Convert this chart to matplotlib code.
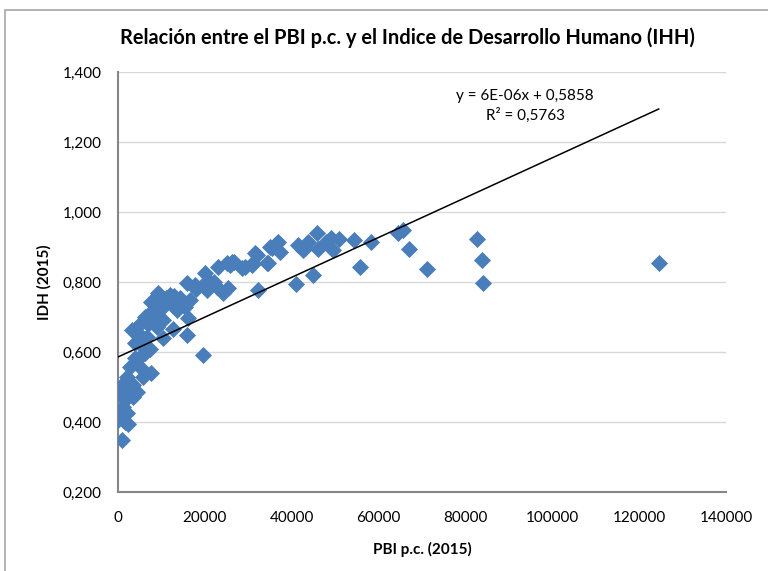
import matplotlib.pyplot as plt
from matplotlib.patches import Rectangle
from matplotlib.ticker import FuncFormatter

# -----------------------------
# Data
# -----------------------------
pbi = [
    124500, 82700, 83800, 84000, 71100, 66900, 64500, 65600,
    58200, 55700, 54400, 51000, 49400, 49000, 47900, 45900, 46100, 45000,
    43800, 42700, 41500, 41100, 36500, 37300, 35400, 34600, 31500, 30800,
    32300, 29200, 26300, 25800, 23100, 20000, 21200, 22700, 25400, 24200,
    19600, 36900, 35000, 43100, 31900, 31200, 34200, 26600, 25000, 15800,
    17700, 21200, 20400, 9300, 12000, 14300, 7700, 9700, 16600, 15400,
    12700, 10400, 8100, 13500, 16200, 6200, 7700, 5400, 10400, 8900,
    12700, 3200, 5100, 15800, 6600, 10400, 3900, 5400, 7400, 6200,
    19600, 3900, 2800, 5400, 7700, 5800, 2000, 1200, 3500, 500,
    2800, 4300, 1600, 3500, 1200, 500, 2000, 100, 1600, 2400,
    850, 11000, 18000, 14000, 22000, 28500, 9000, 6800, 4500, 13000,
]
idh = [
    0.855, 0.922, 0.862, 0.798, 0.837, 0.895, 0.939, 0.949,
    0.915, 0.844, 0.920, 0.922, 0.891, 0.925, 0.915, 0.939, 0.893, 0.820,
    0.915, 0.891, 0.906, 0.794, 0.911, 0.887, 0.896, 0.853, 0.882, 0.849,
    0.777, 0.844, 0.858, 0.849, 0.844, 0.825, 0.801, 0.787, 0.782, 0.768,
    0.791, 0.915, 0.901, 0.896, 0.877, 0.853, 0.853, 0.858, 0.853, 0.796,
    0.791, 0.791, 0.777, 0.768, 0.763, 0.753, 0.744, 0.749, 0.749, 0.729,
    0.734, 0.729, 0.720, 0.720, 0.696, 0.701, 0.691, 0.682, 0.691, 0.672,
    0.667, 0.663, 0.649, 0.649, 0.644, 0.639, 0.625, 0.620, 0.610, 0.596,
    0.591, 0.582, 0.558, 0.553, 0.539, 0.529, 0.529, 0.510, 0.506, 0.482,
    0.482, 0.487, 0.463, 0.472, 0.444, 0.429, 0.425, 0.406, 0.401, 0.393,
    0.349, 0.755, 0.780, 0.740, 0.800, 0.840, 0.700, 0.680, 0.580, 0.760,
]

trend_slope = 5.69e-06
trend_intercept = 0.5858
trend_label = "y = 6E-06x + 0,5858\nR² = 0,5763"

x_ticks = [0, 20000, 40000, 60000, 80000, 100000, 120000, 140000]
y_ticks = [0.2, 0.4, 0.6, 0.8, 1.0, 1.2, 1.4]

title = "Relación entre el PBI p.c. y el Indice de Desarrollo Humano (IHH)"

# -----------------------------
# Figure
# -----------------------------
plt.rcParams['font.family'] = ['Lato', 'DejaVu Sans']

fig = plt.figure(figsize=(7.68, 5.71), dpi=100)
ax = fig.add_axes([118 / 768, 79 / 571, 608 / 768, 420 / 571])

# chart border
fig.patches.append(Rectangle((5 / 768, -0.05), 1.2, 1.05 - 10 / 571,
                             transform=fig.transFigure, fill=False,
                             edgecolor="#A6A6A6", linewidth=1.2))

ax.scatter(pbi, idh, marker="D", s=76, color="#4A7EBB", linewidths=0, zorder=3)

# linear trend line
x0, x1 = min(pbi), max(pbi)
ax.plot([x0, x1], [trend_intercept + trend_slope * x0, trend_intercept + trend_slope * x1],
        color="black", linewidth=1.1, zorder=4)

fig.text(525 / 768, 1 - 106 / 571, trend_label, ha="center", va="center",
         fontsize=11, linespacing=1.35)

ax.set_xlim(0, 140000)
ax.set_ylim(0.2, 1.4)
ax.set_xticks(x_ticks)
ax.set_yticks(y_ticks)
ax.yaxis.set_major_formatter(FuncFormatter(lambda v, p: f"{v:.3f}".replace(".", ",")))
ax.xaxis.set_major_formatter(FuncFormatter(lambda v, p: f"{int(v)}"))
ax.tick_params(length=0, labelsize=11, pad=12)
ax.tick_params(axis="x", pad=14)

ax.grid(axis="y", color="#D9D9D9", linewidth=1.0)
ax.set_axisbelow(True)
for s in ["top", "right"]:
    ax.spines[s].set_visible(False)
for s in ["left", "bottom"]:
    ax.spines[s].set_color("#868686")
    ax.spines[s].set_linewidth(1.5)

fig.text(407 / 768, 1 - 38 / 571, title, ha="center", va="center",
         fontsize=14.4, fontweight="bold")
ax.set_xlabel("PBI p.c. (2015)", fontsize=11, fontweight="bold", labelpad=12)
ax.set_ylabel("IDH (2015)", fontsize=11, fontweight="bold", labelpad=8)

fig.savefig("out.png", dpi=100)
